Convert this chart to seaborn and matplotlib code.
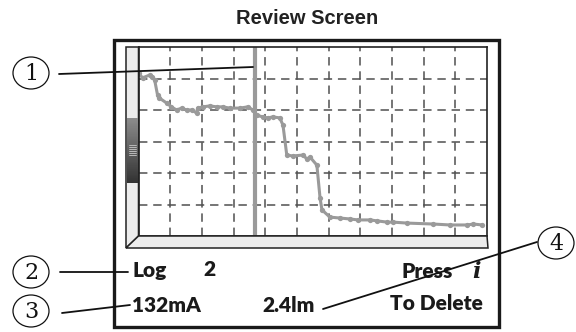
import numpy as np
import pandas as pd
import seaborn as sns
import matplotlib.pyplot as plt
from matplotlib.patches import Rectangle, Ellipse, Polygon

log_x = [0, 1.3, 3.5, 4.4, 5.1, 6.0, 6.6, 8.9, 10.4, 12.0, 13.6, 15.2, 16.8, 18.4, 18.7,
         20.3, 22.5, 24.7, 26.6, 28.8, 32.0, 34.5, 36.1, 37.3, 39.2, 40.8, 42.4, 44.6,
         45.6, 46.8, 48.7, 51.9, 53.2, 54.1, 56.3, 57.3, 57.9, 60.4, 63.6, 66.8, 69.3,
         73.1, 75.3, 78.5, 80.4, 84.8, 93.0, 98.4, 103.8, 105.7, 108.5]
log_y = [51.7, 50.2, 51.1, 50.5, 49.5, 44.8, 43.8, 42.2, 41.0, 40.0, 40.6, 40.0, 40.0, 39.0,
         40.6, 41.0, 41.3, 41.0, 41.0, 40.6, 40.6, 41.0, 40.0, 38.4, 37.8, 37.5, 37.8, 37.5,
         35.2, 25.7, 25.4, 25.7, 24.4, 25.1, 22.5, 12.1, 8.3, 6.0, 5.7, 5.4, 5.1,
         5.1, 4.8, 4.4, 4.4, 4.1, 3.8, 3.5, 3.5, 3.8, 3.5]
cursor_x = 36.7

callouts = ["1", "2", "3", "4"]
status_texts = ["Log", "2", "132mA", "2.4lm", "Press", "To Delete"]

df = pd.DataFrame({"x": log_x, "y": log_y})

sns.set_style("white")
plt.rcParams["font.family"] = ["DejaVu Sans"]

W, H = 576, 332
fig = plt.figure(figsize=(W / 100, H / 100), dpi=100)

# overlay in pixel coordinates for the screen frame and callouts
ov = fig.add_axes([0, 0, 1, 1], zorder=3)
ov.patch.set_alpha(0)
ov.axis("off")

# plot area of the screen
px0, px1, py0, py1 = 138.5, 487, 47, 236
ax = fig.add_axes([px0 / W, 1 - py1 / H, (px1 - px0) / W, (py1 - py0) / H], zorder=2)
sns.lineplot(data=df, x="x", y="y", ax=ax, color="#9a9a9a", lw=2.2,
             marker="o", markersize=3.8, markeredgewidth=0, sort=False)
ax.axvline(cursor_x, color="#9a9a9a", lw=3, zorder=1)
ax.set_xlim(0, 110)
ax.set_ylim(0, 60)
ax.set_xticks(np.arange(10, 110, 10))
ax.set_yticks(np.arange(10, 60, 10))
ax.grid(True, color="#505050", lw=1.1, linestyle=(0, (5.5, 3.8)))
ax.tick_params(length=0, labelbottom=False, labelleft=False)
ax.set_xlabel("")
ax.set_ylabel("")
for s in ax.spines.values():
    s.set_color("#222222")
    s.set_linewidth(1.2)

# outer screen box
ov.add_patch(Rectangle((114, 39.5), 385, 287, fill=False, ec="#1a1a1a", lw=2.4))
# 3D bezel: left strip and bottom strip
ov.add_patch(Polygon([(126, 47), (px0, 47), (px0, py1), (126, 248)], closed=True,
                     fc="#ececec", ec="#222222", lw=1.1))
ov.add_patch(Polygon([(126, 248), (px0, py1), (px1, py1), (488, 248)], closed=True,
                     fc="#ececec", ec="#222222", lw=1.1))
# scroll bar thumb
grad = np.linspace(0.55, 0.2, 50).reshape(-1, 1)
ov.imshow(grad, cmap="gray", vmin=0, vmax=1, extent=(127, px0 - 0.5, 183, 118),
          aspect="auto", zorder=1)
for gy in np.arange(145, 156, 2):
    ov.plot([129, 136], [gy, gy], color="#c8c8c8", lw=0.6, zorder=2)

# title
ov.text(307.5, 19, "Review Screen", ha="center", va="center", fontsize=14.5,
        fontweight="bold", family=["Liberation Sans", "DejaVu Sans"], color="#222222")

# status text on the screen
lcd = dict(fontsize=15, fontweight="heavy", family=["Lato", "DejaVu Sans"],
           color="#1a1a1a", va="center")
ov.text(132, 270, status_texts[0], ha="left", **lcd)
ov.text(203, 270, status_texts[1], ha="left", **lcd)
ov.text(132, 305, status_texts[2], ha="left", **lcd)
ov.text(262, 305, status_texts[3], ha="left", **lcd)
ov.text(453, 272, status_texts[4], ha="right", **lcd)
ov.text(476, 272, "i", ha="center", va="center", fontsize=16, fontweight="bold",
        style="italic", family=["DejaVu Serif"], color="#1a1a1a")
ov.text(483, 304, status_texts[5], ha="right", **lcd)

# callout circles and leader lines
centers = [(31, 73), (31, 272), (31, 311), (556, 243)]
for (cx, cy), lab in zip(centers, callouts):
    ov.add_patch(Ellipse((cx, cy), 36, 32, fill=False, ec="#111111", lw=0.9))
    ov.text(cx, cy + 1, lab, ha="center", va="center", fontsize=16,
            family=["DejaVu Serif"], color="#111111")
leaders = [((59, 74), (253, 67)), ((60, 272), (128, 272)),
           ((62, 313), (130, 305)), ((537, 242), (323, 309))]
for (x0, y0), (x1, y1) in leaders:
    ov.plot([x0, x1], [y0, y1], color="#111111", lw=1.3, zorder=4)

ov.set_xlim(0, W)
ov.set_ylim(H, 0)

fig.savefig("out.png", dpi=100)
